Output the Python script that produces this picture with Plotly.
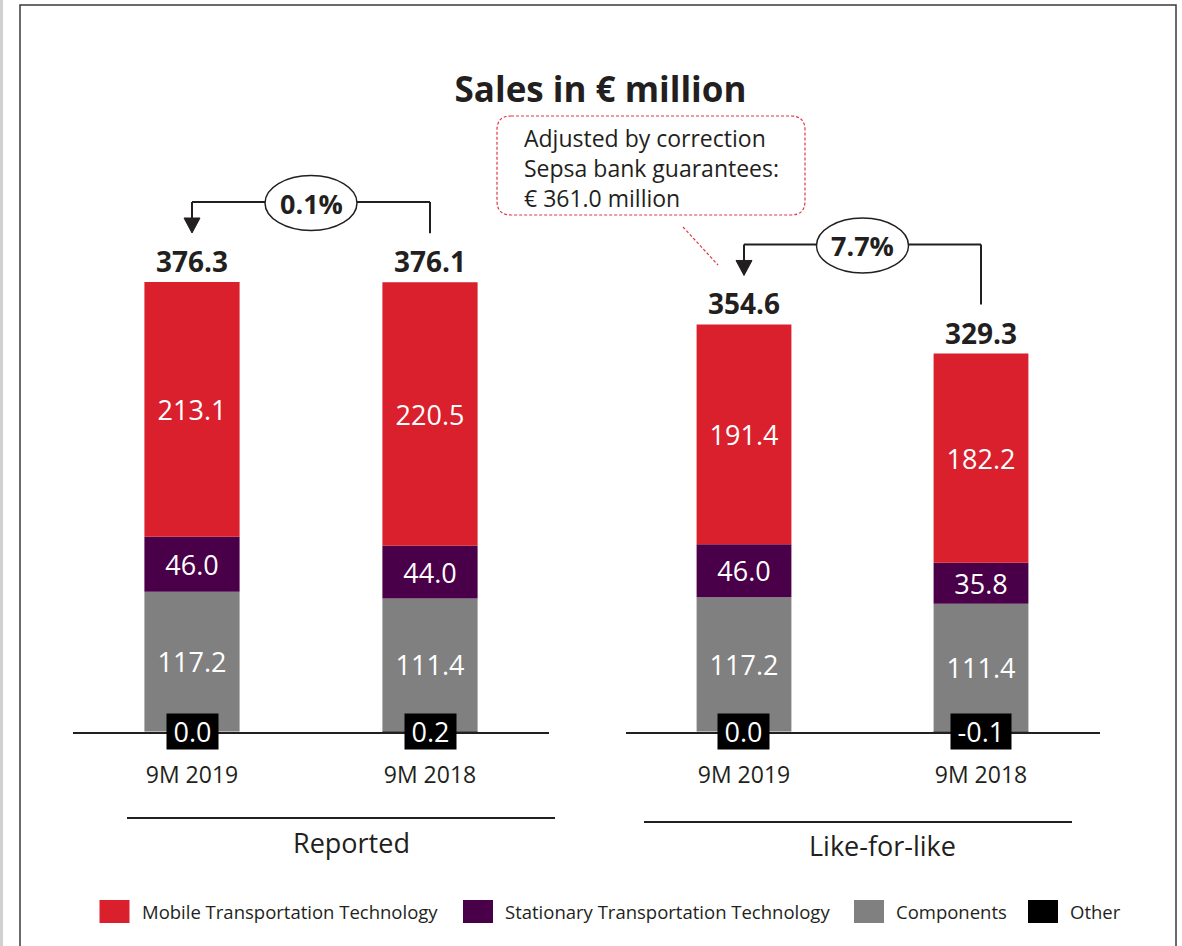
import plotly.graph_objects as go

W, H = 1182, 946

# ---------------- data ----------------
categories = ["9M 2019", "9M 2018"]
segment_names = ["Mobile Transportation Technology", "Stationary Transportation Technology", "Components", "Other"]
segment_colors = ["#DA1F2D", "#4A0048", "#808080", "#000000"]

reported_mobile = [213.1, 220.5]
reported_stationary = [46.0, 44.0]
reported_components = [117.2, 111.4]
reported_other = [0.0, 0.2]
reported_total = [376.3, 376.1]

lfl_mobile = [191.4, 182.2]
lfl_stationary = [46.0, 35.8]
lfl_components = [117.2, 111.4]
lfl_other = [0.0, -0.1]
lfl_total = [354.6, 329.3]

panel_labels = ["Reported", "Like-for-like"]
change_labels = ["0.1%", "7.7%"]
callout_lines = ["Adjusted by correction", "Sepsa bank guarantees:", "€ 361.0 million"]
title_text = "Sales in € million"

# ---------------- styling helpers ----------------
FONT = "Open Sans"
DARK = "#231F20"


def pxx(x):
    return x / W


def pyy(y):
    return 1 - y / H


BASE = 731.8
TOP = 100
ydom = [pyy(BASE), pyy(TOP)]
ppu = [1.1953, 1.1487]
yr = [(BASE - TOP) / p for p in ppu]
xdom = [[pxx(73), pxx(549)], [pxx(625.5), pxx(1099.5)]]
cat_px = [238, 237]

panels = [
    dict(mobile=reported_mobile, stationary=reported_stationary, components=reported_components,
         other=reported_other, total=reported_total),
    dict(mobile=lfl_mobile, stationary=lfl_stationary, components=lfl_components,
         other=lfl_other, total=lfl_total),
]

fig = go.Figure()
annotations = []
shapes = []

for i, p in enumerate(panels):
    xa = "x" if i == 0 else "x2"
    ya = "y" if i == 0 else "y2"
    stack = [
        (segment_names[3], p["other"], segment_colors[3], False),
        (segment_names[2], p["components"], segment_colors[2], True),
        (segment_names[1], p["stationary"], segment_colors[1], True),
        (segment_names[0], p["mobile"], segment_colors[0], True),
    ]
    for name, vals, col, lab in stack:
        fig.add_trace(go.Bar(
            x=categories, y=vals, name=name, xaxis=xa, yaxis=ya,
            marker=dict(color=col, line=dict(width=0)),
            texttemplate="%{y:.1f}" if lab else None,
            textposition="inside" if lab else "none",
            insidetextanchor="middle", textangle=0, constraintext="none",
            textfont=dict(family=FONT, size=27, color="white"),
            showlegend=False, hovertemplate="%{x}: %{y:.1f}<extra>" + name + "</extra>",
        ))
    # "Other" labels on the baseline
    for c, v in zip(categories, p["other"]):
        t = f"{v:.1f}"
        w = 13 + 27 * (0.572 * sum(ch.isdigit() for ch in t) + 0.267 + (0.322 if t.startswith("-") else 0))
        annotations.append(dict(
            x=c, y=0, xref=xa, yref=ya, text=t, showarrow=False,
            font=dict(family=FONT, size=27, color="white"), bgcolor="black",
            width=w, height=35, xanchor="center", yanchor="middle", borderpad=0,
        ))
    # totals
    for c, t in zip(categories, p["total"]):
        annotations.append(dict(
            x=c, y=t, xref=xa, yref=ya, text=f"<b>{t:.1f}</b>", showarrow=False,
            font=dict(family=FONT, size=28, color=DARK), xanchor="center", yanchor="middle", yshift=21,
        ))
    # bracket with change label
    tops = [BASE - t * ppu[i] for t in p["total"]]
    line_y = min(tops) - 80
    ends = [t - 49 for t in tops]
    lw = dict(color=DARK, width=2)
    shapes.append(dict(type="line", xref=xa, yref="paper", x0=0, x1=0, y0=pyy(line_y), y1=pyy(ends[0] - 12), line=lw))
    shapes.append(dict(type="line", xref=xa, yref="paper", x0=0, x1=1, y0=pyy(line_y), y1=pyy(line_y), line=lw))
    shapes.append(dict(type="line", xref=xa, yref="paper", x0=1, x1=1, y0=pyy(line_y), y1=pyy(ends[1]), line=lw))
    shapes.append(dict(type="path", xref=xa, yref="paper", xsizemode="pixel", ysizemode="pixel",
                       xanchor=0, yanchor=pyy(ends[0]), path="M-8,15 L8,15 L0,0 Z",
                       fillcolor=DARK, line=dict(color=DARK, width=1)))
    hw = 46 / cat_px[i]
    shapes.append(dict(type="circle", xref=xa, yref="paper", x0=0.5 - hw, x1=0.5 + hw,
                       y0=pyy(line_y + 1 + 27.5), y1=pyy(line_y + 1 - 27.5),
                       fillcolor="white", line=dict(color=DARK, width=1.5)))
    annotations.append(dict(x=0.5, y=pyy(line_y + 1), xref=xa, yref="paper", text=f"<b>{change_labels[i]}</b>",
                            showarrow=False, font=dict(family=FONT, size=27, color=DARK),
                            xanchor="center", yanchor="middle"))

# panel group labels with lines
group_lines = [(127, 555, 818), (644, 1072, 822)]
group_text = [(351, 842), (882, 845)]
for (x0, x1, yl), (tx, ty), lab in zip(group_lines, group_text, panel_labels):
    shapes.append(dict(type="line", xref="paper", yref="paper", x0=pxx(x0), x1=pxx(x1), y0=pyy(yl), y1=pyy(yl),
                       line=dict(color=DARK, width=2)))
    annotations.append(dict(x=pxx(tx), y=pyy(ty), xref="paper", yref="paper", text=lab, showarrow=False,
                            font=dict(family=FONT, size=27, color=DARK), xanchor="center", yanchor="middle"))


# callout box
def rrect(x0, y0, x1, y1, r):
    P = lambda x, y: f"{pxx(x):.5f},{pyy(y):.5f}"
    return (f"M{P(x0 + r, y0)} L{P(x1 - r, y0)} Q{P(x1, y0)} {P(x1, y0 + r)} "
            f"L{P(x1, y1 - r)} Q{P(x1, y1)} {P(x1 - r, y1)} L{P(x0 + r, y1)} "
            f"Q{P(x0, y1)} {P(x0, y1 - r)} L{P(x0, y0 + r)} Q{P(x0, y0)} {P(x0 + r, y0)} Z")


RED_D = "#E23645"
shapes.append(dict(type="path", xref="paper", yref="paper", path=rrect(497, 116, 805, 215, 14),
                   line=dict(color=RED_D, width=1.2, dash="3px,2px")))
shapes.append(dict(type="line", xref="paper", yref="paper", x0=pxx(683), y0=pyy(227), x1=pxx(718), y1=pyy(265),
                   line=dict(color=RED_D, width=1.2, dash="3px,2px")))
annotations.append(dict(x=pxx(522), y=pyy(168.5), xref="paper", yref="paper", text="<br>".join(callout_lines),
                        showarrow=False, align="left", xanchor="left", yanchor="middle",
                        font=dict(family=FONT, size=23, color=DARK)))

# frame
shapes.append(dict(type="rect", xref="paper", yref="paper", x0=pxx(20), x1=pxx(1176), y0=pyy(960), y1=pyy(5),
                   line=dict(color="#3A3A3A", width=1.5), layer="below"))
shapes.append(dict(type="line", xref="paper", yref="paper", x0=pxx(1.5), x1=pxx(1.5), y0=0, y1=1,
                   line=dict(color="#D0D0D0", width=3)))

# legend (manual)
sq_x = [99.5, 463, 854, 1028]
tx_x = [140, 503, 894, 1068]
for name, col, sx, tx in zip(segment_names, segment_colors, sq_x, tx_x):
    shapes.append(dict(type="rect", xref="paper", yref="paper", x0=pxx(sx), x1=pxx(sx + 30),
                       y0=pyy(923), y1=pyy(900), fillcolor=col, line=dict(width=0)))
    annotations.append(dict(x=pxx(tx), y=pyy(911.5), xref="paper", yref="paper", text=name, showarrow=False,
                            xanchor="left", yanchor="middle", font=dict(family=FONT, size=18.5, color=DARK)))

axis_common = dict(showgrid=False, zeroline=False, ticks="", showline=True, linecolor=DARK, linewidth=1.5,
                   tickfont=dict(family=FONT, size=23, color=DARK), range=[-0.5, 1.5], fixedrange=True,
                   ticklabelstandoff=22)
fig.update_layout(
    width=W, height=H, autosize=False,
    margin=dict(l=0, r=0, t=0, b=0),
    paper_bgcolor="white", plot_bgcolor="white",
    barmode="relative", bargap=0.6,
    title=dict(text=f"<b>{title_text}</b>", x=pxx(600.5), y=pyy(90), xanchor="center", yanchor="middle",
               font=dict(family=FONT, size=35, color=DARK)),
    xaxis=dict(domain=xdom[0], anchor="y", **axis_common),
    xaxis2=dict(domain=xdom[1], anchor="y2", **axis_common),
    yaxis=dict(domain=ydom, range=[0, yr[0]], visible=False, fixedrange=True),
    yaxis2=dict(domain=ydom, range=[0, yr[1]], visible=False, fixedrange=True, anchor="x2"),
    shapes=shapes, annotations=annotations,
    font=dict(family=FONT, color=DARK),
)

fig.write_html("out.html", config={"displayModeBar": False},
               post_script="document.body.style.margin='0';document.body.style.overflow='hidden';")
